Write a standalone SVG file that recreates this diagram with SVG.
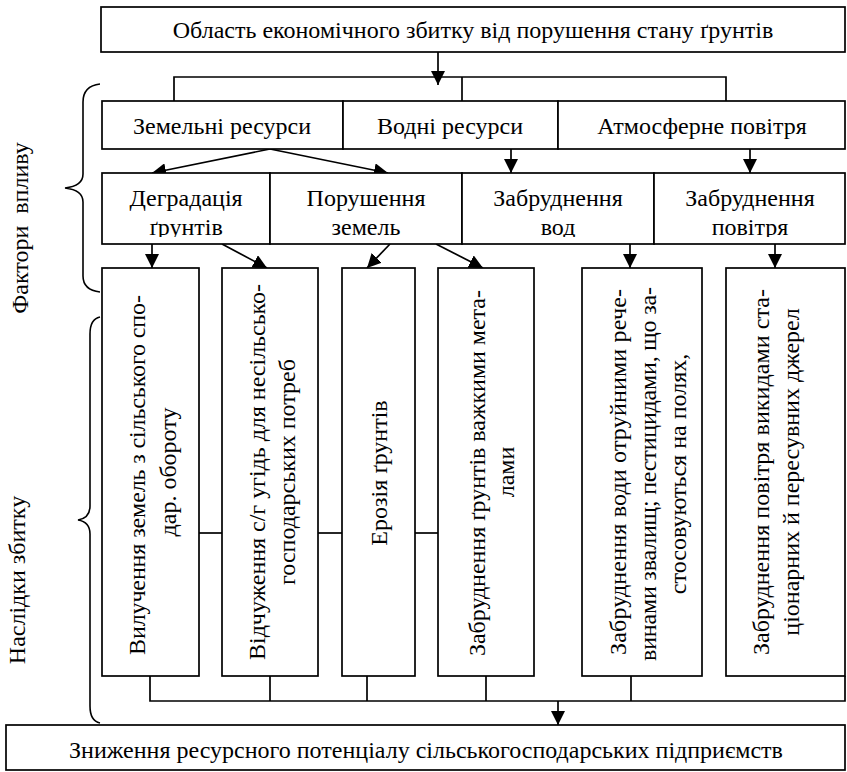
<svg xmlns="http://www.w3.org/2000/svg" width="847" height="772" viewBox="0 0 847 772">
<defs>
<style>
.b{fill:#fff;stroke:#000;stroke-width:1.7}
.c{fill:none;stroke:#000;stroke-width:1.7}
.br{fill:none;stroke:#000;stroke-width:1.6}
</style>
<marker id="ah" markerUnits="userSpaceOnUse" markerWidth="14" markerHeight="14" refX="14" refY="7" orient="auto">
<path d="M0,0 L14,7 L0,14 z" fill="#000"/>
</marker>
<clipPath id="r2"><rect x="0" y="170" width="847" height="67"/></clipPath>
</defs>
<rect width="847" height="772" fill="#fff"/>

<g id="connectors">
<line class="c" x1="438" y1="52" x2="438" y2="85" marker-end="url(#ah)"/>
<polyline class="c" points="174,101 174,77 726,77 726,101"/>
<line class="c" x1="462" y1="77" x2="462" y2="101"/>
<line class="c" x1="270" y1="149" x2="152" y2="173" marker-end="url(#ah)"/>
<line class="c" x1="270" y1="149" x2="388" y2="173" marker-end="url(#ah)"/>
<line class="c" x1="511" y1="149" x2="511" y2="173" marker-end="url(#ah)"/>
<line class="c" x1="750" y1="149" x2="750" y2="173" marker-end="url(#ah)"/>
<line class="c" x1="152" y1="244" x2="152" y2="268" marker-end="url(#ah)"/>
<line class="c" x1="222" y1="244" x2="267" y2="268" marker-end="url(#ah)"/>
<line class="c" x1="390" y1="244" x2="367" y2="268" marker-end="url(#ah)"/>
<line class="c" x1="436" y1="244" x2="483" y2="268" marker-end="url(#ah)"/>
<line class="c" x1="630" y1="244" x2="630" y2="268" marker-end="url(#ah)"/>
<line class="c" x1="775" y1="244" x2="775" y2="268" marker-end="url(#ah)"/>
<line class="c" x1="199" y1="533" x2="222" y2="533"/>
<line class="c" x1="318" y1="533" x2="342" y2="533"/>
<line class="c" x1="415" y1="533" x2="438" y2="533"/>
<polyline class="c" points="150,676 150,701 845,701 845,676"/>
<line class="c" x1="270" y1="676" x2="270" y2="701"/>
<line class="c" x1="367" y1="676" x2="367" y2="701"/>
<line class="c" x1="486" y1="676" x2="486" y2="701"/>
<line class="c" x1="631" y1="676" x2="631" y2="701"/>
<line class="c" x1="558" y1="701" x2="558" y2="725" marker-end="url(#ah)"/>
</g>

<g font-family="Liberation Serif, DejaVu Serif, serif" font-size="24" fill="#000" text-anchor="middle">
<g id="n-top">
<rect class="b" x="101" y="7" width="744" height="45"/>
<text x="473" y="38">Область економічного збитку від порушення стану ґрунтів</text>
</g>

<g id="n-land">
<rect class="b" x="102" y="101" width="241" height="48"/>
<text x="222" y="134">Земельні ресурси</text>
</g>
<g id="n-water">
<rect class="b" x="343" y="101" width="215" height="48"/>
<text x="450" y="134">Водні ресурси</text>
</g>
<g id="n-air">
<rect class="b" x="558" y="101" width="287" height="48"/>
<text x="702" y="134">Атмосферне повітря</text>
</g>

<g id="n-degr">
<rect class="b" x="102" y="173" width="168" height="71"/>
<text clip-path="url(#r2)"><tspan x="186" y="206">Деградація</tspan><tspan x="186" y="235">ґрунтів</tspan></text>
</g>
<g id="n-dist">
<rect class="b" x="270" y="173" width="192" height="71"/>
<text clip-path="url(#r2)"><tspan x="366" y="206">Порушення</tspan><tspan x="366" y="235">земель</tspan></text>
</g>
<g id="n-wpol">
<rect class="b" x="462" y="173" width="192" height="71"/>
<text clip-path="url(#r2)"><tspan x="558" y="206">Забруднення</tspan><tspan x="558" y="235">вод</tspan></text>
</g>
<g id="n-apol">
<rect class="b" x="654" y="173" width="191" height="71"/>
<text clip-path="url(#r2)"><tspan x="750" y="206">Забруднення</tspan><tspan x="750" y="235">повітря</tspan></text>
</g>

<g id="n-c1">
<rect class="b" x="102" y="268" width="97" height="408"/>
<text transform="translate(145,475) rotate(-90)" textLength="360" lengthAdjust="spacing">Вилучення земель з сільського спо-</text>
<text transform="translate(176,472) rotate(-90)">дар. обороту</text>
</g>
<g id="n-c2">
<rect class="b" x="222" y="268" width="96" height="408"/>
<text transform="translate(265,472) rotate(-90)" textLength="376" lengthAdjust="spacing">Відчуження с/г угідь для несільсько-</text>
<text transform="translate(295,472) rotate(-90)">господарських потреб</text>
</g>
<g id="n-c3">
<rect class="b" x="342" y="268" width="73" height="408"/>
<text transform="translate(387,473) rotate(-90)">Ерозія ґрунтів</text>
</g>
<g id="n-c4">
<rect class="b" x="438" y="268" width="96" height="408"/>
<text transform="translate(485,473) rotate(-90)" textLength="366" lengthAdjust="spacing">Забруднення ґрунтів важкими мета-</text>
<text transform="translate(514,472) rotate(-90)">лами</text>
</g>
<g id="n-c5">
<rect class="b" x="582" y="268" width="120" height="408"/>
<text transform="translate(626,472) rotate(-90)" textLength="366" lengthAdjust="spacing">Забруднення води отруйними рече-</text>
<text transform="translate(656,474) rotate(-90)" textLength="374" lengthAdjust="spacing">винами звалищ; пестицидами, що за-</text>
<text transform="translate(686,474) rotate(-90)">стосовуються на полях,</text>
</g>
<g id="n-c6">
<rect class="b" x="726" y="268" width="119" height="408"/>
<text transform="translate(769,472) rotate(-90)" textLength="366" lengthAdjust="spacing">Забруднення повітря викидами ста-</text>
<text transform="translate(799,472) rotate(-90)">ціонарних й пересувних джерел</text>
</g>

<g id="n-bottom">
<rect class="b" x="6" y="725" width="839" height="45"/>
<text x="426" y="758">Зниження ресурсного потенціалу сільськогосподарських підприємств</text>
</g>

<g id="brace-factors">
<path class="br" d="M100,84 Q83,86 83,102 L83,174 Q83,186 65,188 Q83,190 83,202 L83,276 Q83,290 100,292"/>
<text transform="translate(28,228) rotate(-90)" xml:space="preserve">Фактори  впливу</text>
</g>
<g id="brace-effects">
<path class="br" d="M100,317 Q90,319 90,334 L90,506 Q90,518 78,520 Q90,522 90,534 L90,706 Q90,721 100,723"/>
<text transform="translate(25,580) rotate(-90)">Наслідки збитку</text>
</g>
</g>
</svg>
